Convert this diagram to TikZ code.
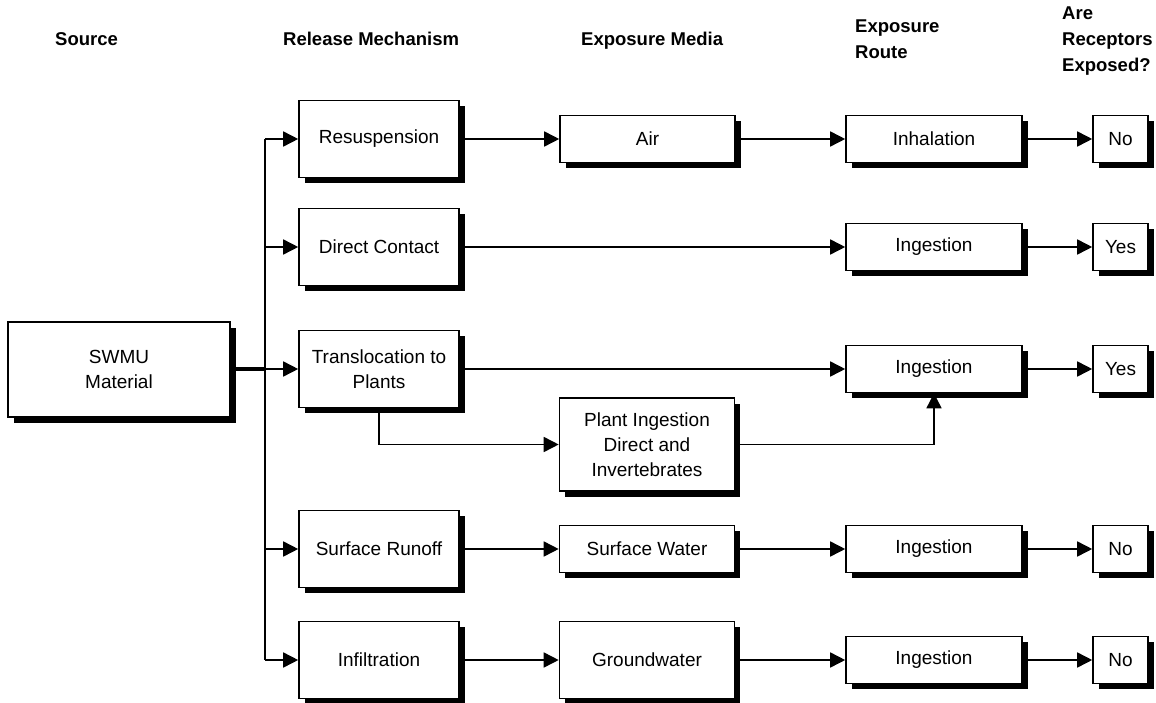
\documentclass[tikz,border=0pt]{standalone}
\usepackage{fontspec}
\setmainfont{Liberation Sans}
\usetikzlibrary{arrows.meta,shadows}
\begin{document}
\begin{tikzpicture}[x=1pt,y=-1pt,
  box/.style={draw,line width=1.6pt,fill=white,align=center,inner sep=0pt,
    font=\fontsize{19}{25}\selectfont,
    drop shadow={shadow xshift=5.5pt,shadow yshift=-5.5pt,fill=black,opacity=1}},
  relbox/.style={box,minimum width=160pt,minimum height=77pt},
  medbox/.style={box,minimum width=175pt,minimum height=47pt},
  routebox/.style={box,minimum width=176pt,minimum height=47pt},
  resbox/.style={box,minimum width=55pt,minimum height=47pt},
  hdr/.style={inner sep=0pt,align=left,font=\fontsize{18.5}{26}\selectfont\bfseries},
  conn/.style={line width=1.6pt},
  arr/.style={line width=1.6pt,-{Triangle[length=15pt,width=15pt]}}
]
\useasboundingbox (0,0) rectangle (1156,703);

% headers
\node[hdr,anchor=base west] (hsrc) at (55,46) {Source};
\node[hdr,anchor=base west] (hrel) at (283,46) {Release Mechanism};
\node[hdr,anchor=base west] (hmed) at (581,46) {Exposure Media};
\node[hdr,anchor=base west] (hrt1) at (855,33) {Exposure};
\node[hdr,anchor=base west] (hrt2) at (855,59) {Route};
\node[hdr,anchor=base west] (hre1) at (1062,20) {Are};
\node[hdr,anchor=base west] (hre2) at (1062,46) {Receptors};
\node[hdr,anchor=base west] (hre3) at (1062,72) {Exposed?};

% boxes
\node[box,minimum width=222pt,minimum height=95pt] (swmu) at (119,369.5) {SWMU\\Material};

\node[relbox] (resus) at (379,139) {Resuspension};
\node[relbox] (direct) at (379,247) {Direct Contact};
\node[relbox] (trans) at (379,369) {Translocation to\\Plants};
\node[relbox] (runoff) at (379,549) {Surface Runoff};
\node[relbox] (infil) at (379,660) {Infiltration};

\node[medbox] (air) at (647.5,139) {Air};
\node[medbox,minimum height=93pt] (plant) at (647,444.5) {Plant Ingestion\\Direct and\\Invertebrates};
\node[medbox] (sw) at (647,549) {Surface Water};
\node[medbox,minimum height=77pt] (gw) at (647,660) {Groundwater};

\node[routebox] (inhal) at (934,139) {Inhalation};
\node[routebox] (ing2) at (934,247) {Ingestion};
\node[routebox] (ing3) at (934,369) {Ingestion};
\node[routebox] (ing4) at (934,549) {Ingestion};
\node[routebox] (ing5) at (934,660) {Ingestion};

\node[resbox] (no1) at (1120.5,139) {No};
\node[resbox] (yes2) at (1120.5,247) {Yes};
\node[resbox] (yes3) at (1120.5,369) {Yes};
\node[resbox] (no4) at (1120.5,549) {No};
\node[resbox] (no5) at (1120.5,660) {No};

% trunk
\coordinate (t1) at (265,139);
\coordinate (t2) at (265,247);
\coordinate (t3) at (265,369);
\coordinate (t4) at (265,549);
\coordinate (t5) at (265,660);
\draw[conn] (t1) -- (t5);
\draw[line width=3.2pt] (swmu.east |- t3) -- (t3);

\draw[arr] (t1) -- (resus.west);
\draw[arr] (t2) -- (direct.west);
\draw[arr] (t3) -- (trans.west);
\draw[arr] (t4) -- (runoff.west);
\draw[arr] (t5) -- (infil.west);

% row 1
\draw[arr] (resus.east) -- (air.west);
\draw[arr] (air.east) -- (inhal.west);
\draw[arr] (inhal.east) -- (no1.west);
% row 2
\draw[arr] (direct.east) -- (ing2.west);
\draw[arr] (ing2.east) -- (yes2.west);
% row 3
\draw[arr] (trans.east) -- (ing3.west);
\draw[arr] (ing3.east) -- (yes3.west);
\draw[arr] (trans.south) -- (trans.south |- plant.west) -- (plant.west);
\draw[arr] (plant.east) -- (ing3.south |- plant.east) -- (ing3.south);
% row 4
\draw[arr] (runoff.east) -- (sw.west);
\draw[arr] (sw.east) -- (ing4.west);
\draw[arr] (ing4.east) -- (no4.west);
% row 5
\draw[arr] (infil.east) -- (gw.west);
\draw[arr] (gw.east) -- (ing5.west);
\draw[arr] (ing5.east) -- (no5.west);
\end{tikzpicture}
\end{document}
